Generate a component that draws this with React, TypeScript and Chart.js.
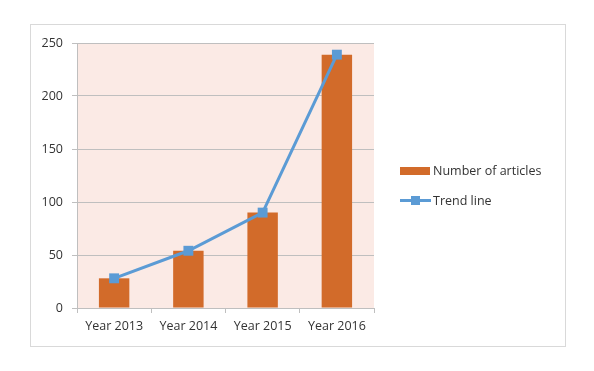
import React, { useEffect, useRef } from "react";
import { Chart, registerables } from "chart.js";

Chart.register(...registerables);

const categories = ["Year 2013", "Year 2014", "Year 2015", "Year 2016"];
const articleCounts = [28, 54, 90, 239];
const trendValues = [28, 54, 90, 239];
const yTicks = [0, 50, 100, 150, 200, 250];

const FONT = "'Open Sans', 'Noto Sans', sans-serif";
const BAR_COLOR = "#D26B2A";
const LINE_COLOR = "#5B9BD5";
const TEXT_COLOR = "#333333";
const GRID_COLOR = "#BFBFBF";

const framePlugin = {
  id: "frame",
  beforeDraw(chart: any) {
    const { ctx, chartArea } = chart;
    ctx.save();
    ctx.fillStyle = "#ffffff";
    ctx.fillRect(0, 0, chart.width, chart.height);
    ctx.strokeStyle = "#D9D9D9";
    ctx.lineWidth = 1;
    ctx.strokeRect(30.5, 24.5, 535, 322);
    ctx.fillStyle = "#FBEAE5";
    ctx.fillRect(chartArea.left, chartArea.top, chartArea.right - chartArea.left, chartArea.bottom - chartArea.top);
    ctx.restore();
  },
  afterDraw(chart: any) {
    const { ctx } = chart;
    const ds = chart.data.datasets;
    ctx.save();
    ctx.font = `12.5px ${FONT}`;
    ctx.textBaseline = "middle";
    ctx.fillStyle = ds[0].backgroundColor;
    ctx.fillRect(400, 167, 30, 8);
    ctx.fillStyle = TEXT_COLOR;
    ctx.fillText(ds[0].label, 433, 171);
    ctx.strokeStyle = ds[1].borderColor;
    ctx.lineWidth = 3;
    ctx.beginPath();
    ctx.moveTo(400, 200.5);
    ctx.lineTo(431, 200.5);
    ctx.stroke();
    ctx.fillStyle = ds[1].pointBackgroundColor;
    ctx.fillRect(411, 196, 9, 9);
    ctx.fillStyle = TEXT_COLOR;
    ctx.fillText(ds[1].label, 433, 201);
    ctx.restore();
  },
};

export default function App() {
  const ref = useRef<HTMLCanvasElement | null>(null);

  useEffect(() => {
    document.body.style.margin = "0";
    const canvas = ref.current;
    if (!canvas) return;
    const chart = new Chart(canvas, {
      type: "bar",
      data: {
        labels: categories,
        datasets: [
          {
            type: "bar",
            label: "Number of articles",
            data: articleCounts,
            backgroundColor: BAR_COLOR,
            borderWidth: 0,
            barPercentage: 0.41,
            categoryPercentage: 1,
            order: 2,
          },
          {
            type: "line",
            label: "Trend line",
            data: trendValues,
            borderColor: LINE_COLOR,
            borderWidth: 3,
            pointStyle: "rect",
            pointRadius: 7,
            pointBackgroundColor: LINE_COLOR,
            pointBorderColor: LINE_COLOR,
            pointBorderWidth: 0,
            tension: 0,
            order: 1,
          } as any,
        ],
      },
      options: {
        animation: false,
        responsive: false,
        maintainAspectRatio: false,
        layout: { padding: { left: 30, top: 43, right: 220, bottom: 25 } },
        plugins: {
          legend: { display: false },
          tooltip: { enabled: false },
        },
        scales: {
          x: {
            offset: true,
            grid: {
              display: true,
              offset: true,
              drawOnChartArea: false,
              drawTicks: true,
              tickLength: 5,
              color: GRID_COLOR,
            },
            border: { display: true, color: GRID_COLOR, width: 1 },
            ticks: {
              color: TEXT_COLOR,
              font: { family: FONT, size: 12.5 },
              padding: 6,
              maxRotation: 0,
            },
            afterFit(scale: any) {
              scale.height = 38;
            },
          },
          y: {
            min: 0,
            max: 250,
            afterBuildTicks(scale: any) {
              scale.ticks = yTicks.map((v) => ({ value: v }));
            },
            grid: {
              color: GRID_COLOR,
              lineWidth: 1,
              tickLength: 5,
              drawTicks: true,
            },
            border: { display: true, color: GRID_COLOR, width: 1 },
            ticks: {
              color: TEXT_COLOR,
              font: { family: FONT, size: 12.5 },
              padding: 9,
            },
            afterFit(scale: any) {
              scale.width = 47;
            },
          },
        },
      },
      plugins: [framePlugin],
    });
    return () => chart.destroy();
  }, []);

  return (
    <div style={{ width: 594, height: 371 }}>
      <canvas ref={ref} width={594} height={371} style={{ display: "block", width: 594, height: 371 }} />
    </div>
  );
}
